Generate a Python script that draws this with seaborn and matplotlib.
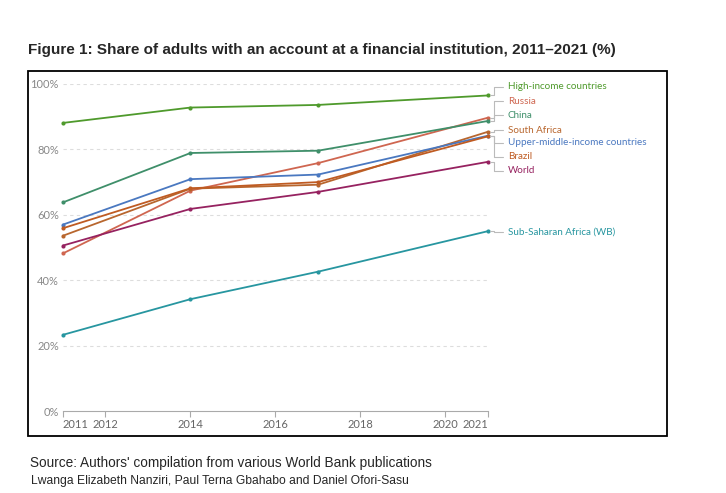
import matplotlib
matplotlib.use("Agg")
import matplotlib.pyplot as plt
import seaborn as sns
import pandas as pd
from matplotlib.patches import Rectangle

years = [2011, 2014, 2017, 2021]
high_income = [88.1, 92.8, 93.6, 96.5]
russia = [48.2, 67.4, 75.8, 89.7]
china = [63.8, 78.9, 79.6, 88.7]
south_africa = [53.6, 68.0, 69.2, 85.4]
upper_middle = [57.0, 70.9, 72.3, 84.2]
brazil = [55.9, 68.1, 70.0, 84.0]
world = [50.6, 61.8, 67.0, 76.2]
ssa = [23.3, 34.2, 42.6, 55.0]

series_names = ["High-income countries", "Russia", "China", "South Africa",
                "Upper-middle-income countries", "Brazil", "World",
                "Sub-Saharan Africa (WB)"]
series_values = [high_income, russia, china, south_africa, upper_middle,
                 brazil, world, ssa]
colors = ["#4f9a2c", "#cf6650", "#3f8f6a", "#b8662e", "#4a78c0",
          "#bf5b22", "#962260", "#2796a0"]
label_y = [99.1, 94.8, 90.5, 85.9, 82.0, 77.7, 73.4, 54.7]

x_ticks = [2011, 2012, 2014, 2016, 2018, 2020, 2021]
y_ticks = [0, 20, 40, 60, 80, 100]
y_tick_labels = ["0%", "20%", "40%", "60%", "80%", "100%"]

title = "Figure 1: Share of adults with an account at a financial institution, 2011\u20132021 (%)"
source = "Source: Authors' compilation from various World Bank publications"
authors = "Lwanga Elizabeth Nanziri, Paul Terna Gbahabo and Daniel Ofori-Sasu"

rows = []
for name, vals in zip(series_names, series_values):
    for y, v in zip(years, vals):
        rows.append({"year": y, "value": v, "series": name})
df = pd.DataFrame(rows)

sns.set_style("white")
plt.rcParams["font.family"] = ["Lato", "DejaVu Sans"]

fig = plt.figure(figsize=(7.26, 4.93), dpi=100)
ax = fig.add_axes([63 / 726, 1 - 411 / 493, (488 - 63) / 726, (411 - 84) / 493])

palette = dict(zip(series_names, colors))
sns.lineplot(data=df, x="year", y="value", hue="series", palette=palette,
             hue_order=series_names, marker="o", markersize=3,
             markeredgewidth=0, linewidth=1.3, ax=ax, legend=False)
for line in ax.lines:
    line.set_clip_on(False)

ax.set_xlim(2011, 2021)
ax.set_ylim(0, 100)
ax.set_xlabel("")
ax.set_ylabel("")
ax.set_xticks(x_ticks)
ax.set_xticklabels([str(t) for t in x_ticks], fontsize=8, color="#666666")
xt = ax.get_xticklabels()
xt[0].set_horizontalalignment("left")
xt[-1].set_horizontalalignment("right")
ax.set_yticks(y_ticks)
ax.set_yticklabels(y_tick_labels, fontsize=8, color="#888888")
for v in y_ticks[1:]:
    ax.axhline(v, color="#dddddd", linewidth=0.8, linestyle=(0, (3, 3)), zorder=0)
for s in ["top", "right", "left"]:
    ax.spines[s].set_visible(False)
ax.spines["bottom"].set_color("#aaaaaa")
ax.spines["bottom"].set_linewidth(0.8)
ax.tick_params(axis="x", bottom=True, length=4, width=0.8, color="#aaaaaa", pad=2)
ax.tick_params(axis="y", left=False, length=0, pad=3)

# connector lines and labels
x_end = years[-1]
x_elbow = x_end + 6 / 42.5
x_text_line = x_end + 15 / 42.5
x_text = x_end + 20 / 42.5
for name, vals, col, ly in zip(series_names, series_values, colors, label_y):
    ax.plot([x_end + 2 / 42.5, x_elbow, x_elbow, x_text_line],
            [vals[-1], vals[-1], ly, ly], color="#bbbbbb", linewidth=0.8,
            clip_on=False)
    ax.text(x_text, ly, name, color=col, fontsize=7.1, va="center", ha="left",
            clip_on=False)

# frame
fig.patches.append(Rectangle((28 / 726, 1 - 436 / 493), (667 - 28) / 726,
                             (436 - 71) / 493, transform=fig.transFigure,
                             fill=False, edgecolor="black", linewidth=1.3))

fig.text(28 / 726, 1 - 50 / 493, title, fontsize=11, fontweight="bold",
         family="Liberation Sans", va="center", ha="left")
fig.text(30 / 726, 1 - 463 / 493, source, fontsize=9.85,
         family="Liberation Sans", va="center", ha="left")
fig.text(31 / 726, 1 - 481 / 493, authors, fontsize=8.75,
         family="Liberation Sans", va="center", ha="left")

fig.savefig("out.png", dpi=100)
